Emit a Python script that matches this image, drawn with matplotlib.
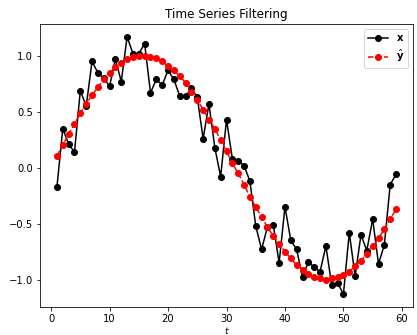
import numpy as np
import matplotlib
matplotlib.use("Agg")
import matplotlib.pyplot as plt

t = np.arange(1, 60)

x_obs = [-0.17, 0.35, 0.21, 0.14, 0.69, 0.55, 0.95, 0.85, 0.80, 0.73,
         0.97, 0.77, 1.17, 1.02, 1.02, 1.11, 0.67, 0.79, 0.74, 0.87,
         0.79, 0.64, 0.64, 0.71, 0.63, 0.26, 0.57, 0.18, -0.08, 0.43,
         0.08, 0.06, 0.02, -0.12, -0.52, -0.73, -0.53, -0.51, -0.85, -0.35,
         -0.65, -0.73, -0.98, -0.84, -0.89, -0.93, -0.70, -1.05, -1.03, -1.13,
         -0.58, -0.97, -0.60, -0.74, -0.46, -0.86, -0.69, -0.15, -0.06]

y_hat = [0.107, 0.205, 0.30, 0.39, 0.49, 0.57, 0.65, 0.72, 0.79, 0.85,
         0.90, 0.94, 0.97, 0.99, 1.00, 1.00, 0.99, 0.98, 0.95, 0.91,
         0.87, 0.82, 0.76, 0.68, 0.61, 0.52, 0.43, 0.35, 0.245, 0.146,
         0.04, -0.05, -0.15, -0.26, -0.35, -0.44, -0.53, -0.61, -0.68, -0.75,
         -0.81, -0.87, -0.91, -0.95, -0.98, -0.99, -1.00, -0.99, -0.98, -0.955,
         -0.93, -0.88, -0.83, -0.77, -0.70, -0.63, -0.55, -0.46, -0.37]

fig = plt.figure(figsize=(417/72, 335/72), dpi=72)
ax = fig.add_axes([40/417, 1-307/335, 373/417, 283/335])
ax.plot(t, x_obs, 'k-o', label=r'$\mathbf{x}$')
ax.plot(t, y_hat, 'r--o', label=r'$\hat{\mathbf{y}}$')
ax.set_title('Time Series Filtering')
ax.set_xlabel('$t$', fontsize=9, labelpad=1)
ax.legend(loc='upper right')
fig.savefig('out.png', dpi=72)
